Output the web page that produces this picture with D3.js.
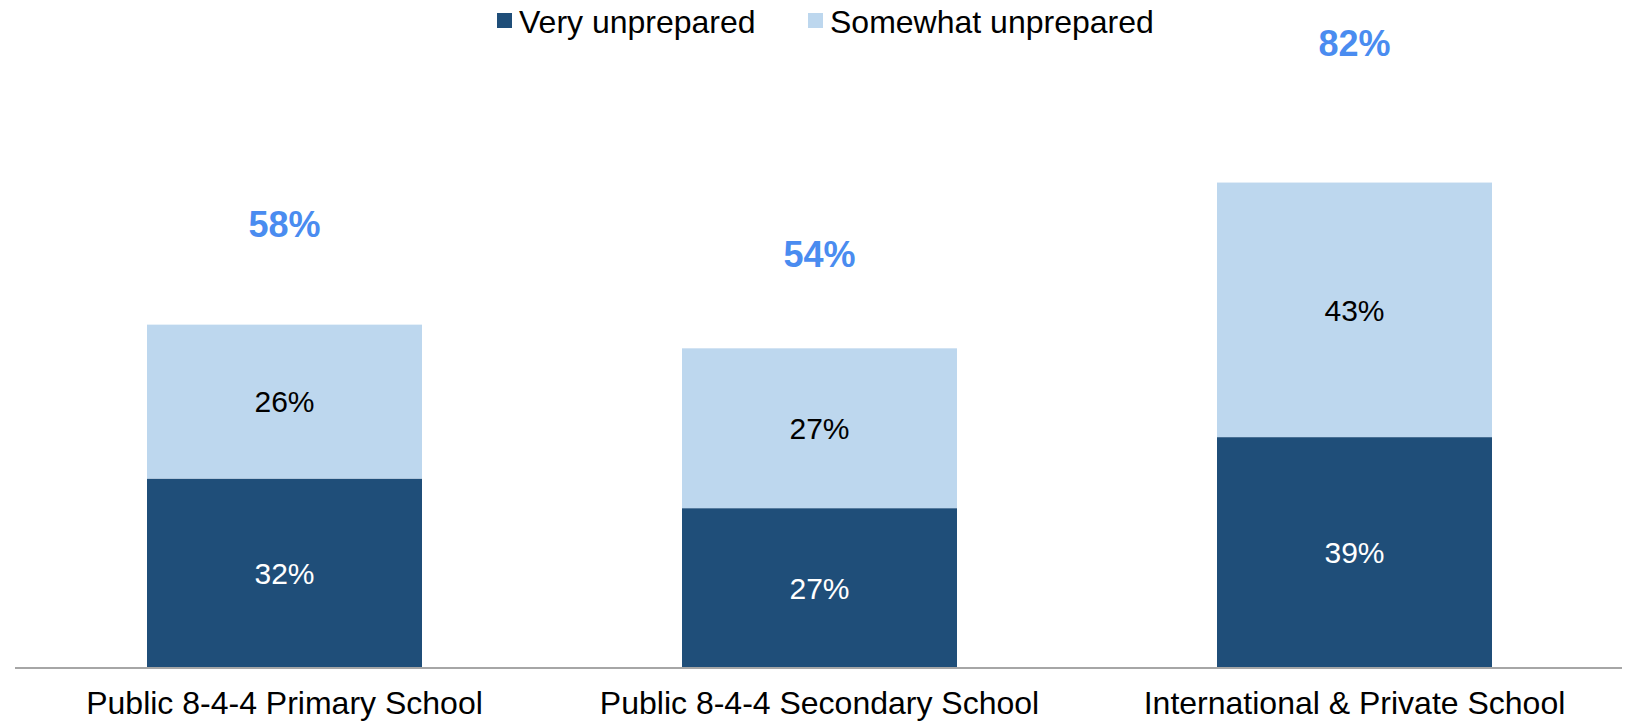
<!DOCTYPE html>
<html>

<head>
    <meta charset="UTF-8">
    <script src="https://d3js.org/d3.v7.min.js"></script>
    <style>
        body {
            margin: 0;
            background-color: #ffffff;
        }

        text {
            font-family: 'Liberation Sans', Arial, sans-serif;
        }
    </style>
</head>

<body>
    <svg id="chart" width="1630" height="722"></svg>
    <script>
        // chart values
        var categories = ["Public 8-4-4 Primary School", "Public 8-4-4 Secondary School", "International & Private School"];
        var veryUnprepared = [32, 27, 39];
        var somewhatUnprepared = [26, 27, 43];
        var totals = [58, 54, 82];
        var seriesNames = ["Very unprepared", "Somewhat unprepared"];
        var colors = ["#1f4e79", "#bdd7ee"];

        var width = 1630;
        var height = 722;
        var axisY = 668;

        var svg = d3.select("#chart")
            .attr("width", width)
            .attr("height", height);

        var x = d3.scaleBand()
            .domain(categories)
            .range([17, 1622])
            .paddingInner(0.486)
            .paddingOuter(0.243);

        var y = d3.scaleLinear()
            .domain([0, 100])
            .range([axisY, 76]);

        // totals sit on their own scale (secondary axis in the original)
        var yTotal = d3.scaleLinear()
            .domain([0, 82])
            .range([662, 43]);

        var rows = categories.map(function (c, i) {
            return { category: c, very: veryUnprepared[i], somewhat: somewhatUnprepared[i], total: totals[i] };
        });

        var stack = d3.stack().keys(["very", "somewhat"]);
        var layers = stack(rows);

        var layer = svg.selectAll("g.layer")
            .data(layers)
            .enter()
            .append("g")
            .attr("class", "layer")
            .attr("fill", function (d, i) { return colors[i]; });

        layer.selectAll("rect")
            .data(function (d) { return d; })
            .enter()
            .append("rect")
            .attr("x", function (d) { return x(d.data.category); })
            .attr("width", x.bandwidth())
            .attr("y", function (d) { return y(d[1]); })
            .attr("height", function (d) { return y(d[0]) - y(d[1]); });

        // segment labels
        layer.selectAll("text")
            .data(function (d) { return d; })
            .enter()
            .append("text")
            .attr("x", function (d) { return x(d.data.category) + x.bandwidth() / 2; })
            .attr("y", function (d) { return (y(d[0]) + y(d[1])) / 2; })
            .attr("dy", "0.36em")
            .attr("text-anchor", "middle")
            .style("font-size", "30px")
            .attr("fill", function (d) { return d[0] === 0 ? "#ffffff" : "#000000"; })
            .text(function (d) { return (d[1] - d[0]) + "%"; });

        // totals
        svg.selectAll("text.total")
            .data(rows)
            .enter()
            .append("text")
            .attr("class", "total")
            .attr("x", function (d) { return x(d.category) + x.bandwidth() / 2; })
            .attr("y", function (d) { return yTotal(d.total); })
            .attr("dy", "0.36em")
            .attr("text-anchor", "middle")
            .style("font-size", "36px")
            .style("font-weight", "bold")
            .attr("fill", "#4a8cf0")
            .text(function (d) { return d.total + "%"; });

        // baseline axis
        svg.append("line")
            .attr("x1", 15)
            .attr("x2", 1622)
            .attr("y1", axisY)
            .attr("y2", axisY)
            .attr("stroke", "#a6a6a6")
            .attr("stroke-width", 2);

        var xAxis = d3.axisBottom(x).tickSize(0).tickPadding(0);
        var gx = svg.append("g")
            .attr("transform", "translate(0," + axisY + ")")
            .call(xAxis);
        gx.select(".domain").remove();
        gx.selectAll("text")
            .attr("dy", null)
            .attr("y", 46)
            .style("font-family", "'Liberation Sans', Arial, sans-serif")
            .style("font-size", "32px")
            .attr("fill", "#000000");

        // legend
        var legendX = [497, 808];
        var legend = svg.selectAll("g.legend")
            .data(seriesNames)
            .enter()
            .append("g")
            .attr("class", "legend")
            .attr("transform", function (d, i) { return "translate(" + legendX[i] + ",0)"; });

        legend.append("rect")
            .attr("x", 0)
            .attr("y", 13)
            .attr("width", 15)
            .attr("height", 15)
            .attr("fill", function (d, i) { return colors[i]; });

        legend.append("text")
            .attr("x", 22)
            .attr("y", 33)
            .style("font-size", "32px")
            .attr("fill", "#000000")
            .text(function (d) { return d; });
    </script>
</body>

</html>
